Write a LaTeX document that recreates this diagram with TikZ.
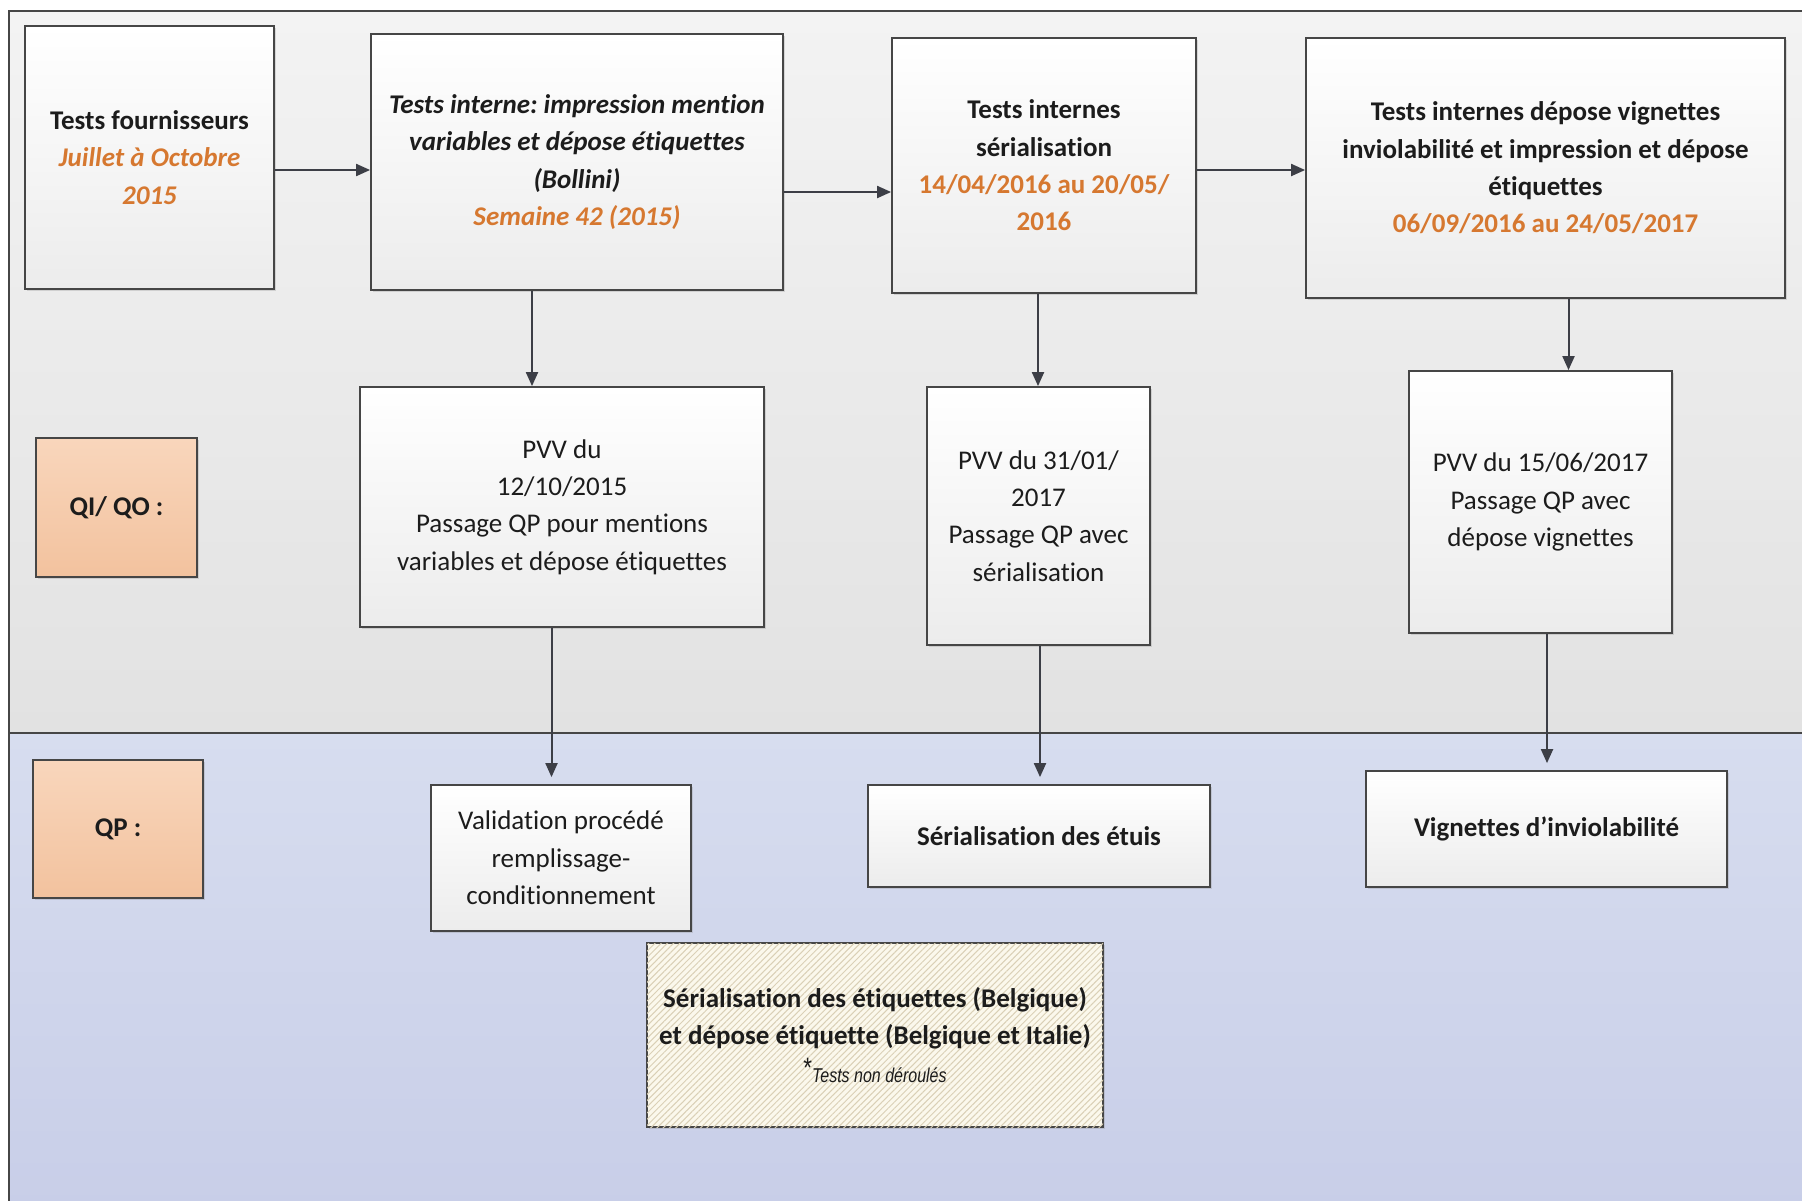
\documentclass[tikz,border=0pt]{standalone}
\usepackage{fontspec}
\usepackage{graphicx}
\setmainfont{Carlito}[Ligatures=NoCommon]
\newfontfamily\narrowfont{Liberation Sans}
\usetikzlibrary{arrows.meta,shadows,patterns.meta}
\definecolor{orgtxt}{RGB}{214,120,48}
\definecolor{txtc}{RGB}{28,28,28}
\definecolor{bordc}{RGB}{70,70,70}
\definecolor{arrc}{RGB}{60,62,70}
\definecolor{boxbot}{RGB}{236,236,236}
\definecolor{org1}{RGB}{249,214,188}
\definecolor{org2}{RGB}{242,194,158}
\definecolor{up1}{RGB}{243,243,243}
\definecolor{up2}{RGB}{226,226,226}
\definecolor{lo1}{RGB}{215,221,239}
\definecolor{lo2}{RGB}{200,206,232}
\definecolor{cream}{RGB}{251,248,236}
\definecolor{hatchc}{RGB}{218,208,182}
\newcommand\msz{\fontsize{13.5}{18.7}\selectfont\frenchspacing}
\newcommand\og[1]{\textcolor{orgtxt}{#1}}
\begin{document}
\begin{tikzpicture}[x=0.5pt,y=-0.5pt,
  box/.style={draw=bordc, line width=0.9pt, top color=white, bottom color=boxbot,
    drop shadow={shadow xshift=1.2pt, shadow yshift=-1.2pt, opacity=0.25},
    align=center, inner sep=2pt, font=\msz, text=txtc},
  obox/.style={box, top color=org1, bottom color=org2},
  hbox/.style={draw=bordc, line width=0.9pt, fill=cream,
    drop shadow={shadow xshift=1.2pt, shadow yshift=-1.2pt, opacity=0.25},
    postaction={pattern={Lines[angle=45,distance=2.2pt,line width=0.5pt]}, pattern color=hatchc},
    align=center, inner sep=2pt, font=\msz, text=txtc},
  arr/.style={draw=arrc, line width=1pt, -{Triangle[length=7pt,width=6pt]}}
]
\useasboundingbox (0,0) rectangle (1802,1200);
\clip (0,0) rectangle (1802,1200);
% background regions
\fill[top color=up1, bottom color=up2] (9,11) rectangle (1810,733);
\fill[top color=lo1, bottom color=lo2] (9,733) rectangle (1810,1210);
\draw[draw=bordc, line width=1pt] (9,1210) -- (9,11) -- (1810,11);
\draw[draw=bordc, line width=1pt] (9,733) -- (1810,733);

% top row
\node[box, minimum width=124.5pt, minimum height=131.5pt] (B1) at (149.5,157.5)
  {\bfseries Tests fournisseurs\\ \bfseries\itshape\og{Juillet à Octobre}\\ \bfseries\itshape\og{2015}};
\node[box, minimum width=206pt, minimum height=128pt] (B2) at (577,162)
  {\bfseries\itshape Tests interne: impression mention\\ \bfseries\itshape variables et dépose étiquettes\\ \bfseries\itshape (Bollini)\\ \bfseries\itshape\og{Semaine 42 (2015)}};
\node[box, minimum width=152pt, minimum height=127.5pt] (B3) at (1044,165.5)
  {\bfseries Tests internes\\ \bfseries sérialisation\\ \bfseries\og{14/04/2016 au 20/05/}\\ \bfseries\og{2016}};
\node[box, minimum width=239.5pt, minimum height=130pt] (B4) at (1545.5,168)
  {\bfseries Tests internes dépose vignettes\\ \bfseries inviolabilité et impression et dépose\\ \bfseries étiquettes\\ \bfseries\og{06/09/2016 au 24/05/2017}};

% QI/QO row
\node[obox, minimum width=80.5pt, minimum height=69.5pt] (QI) at (116.5,507.5) {\bfseries QI/ QO :};
\node[box, minimum width=202pt, minimum height=120pt] (P1) at (562,507)
  {PVV du\\ 12/10/2015\\ Passage QP pour mentions\\ variables et dépose étiquettes};
\node[box, minimum width=111.5pt, minimum height=129pt] (P2) at (1038.5,516)
  {PVV du 31/01/\\ 2017\\ Passage QP avec\\ sérialisation};
\node[box, minimum width=131.5pt, minimum height=131pt] (P3) at (1540.5,502)
  {PVV du 15/06/2017\\ Passage QP avec\\ dépose vignettes};

% QP row
\node[obox, minimum width=85pt, minimum height=69pt] (QP) at (118,829) {\bfseries QP :};
\node[box, minimum width=130pt, minimum height=73pt] (V1) at (561,858)
  {Validation procédé\\ remplissage-\\ conditionnement};
\node[box, minimum width=171pt, minimum height=51pt] (V2) at (1039,836)
  {\bfseries Sérialisation des étuis};
\node[box, minimum width=180.5pt, minimum height=58pt] (V3) at (1546.5,829)
  {\bfseries Vignettes d’inviolabilité};
\node[hbox, minimum width=228pt, minimum height=92pt] (H) at (875,1035)
  {\bfseries Sérialisation des étiquettes (Belgique)\\ \bfseries et dépose étiquette (Belgique et Italie)\\
   \scalebox{0.8}[1]{\narrowfont\itshape\fontsize{10}{12}\selectfont\raisebox{0.45ex}{\upshape\fontsize{14}{14}\selectfont *}Tests non déroulés}};

% connector guides
\coordinate (h1) at (0,170);
\coordinate (h2) at (0,192);
\coordinate (v1) at (532,0);
\coordinate (v2) at (1038,0);
\coordinate (v3) at (1568.5,0);
\coordinate (w1) at (551.5,0);
\coordinate (w2) at (1040,0);
\coordinate (w3) at (1547,0);

\draw[arr] (B1.east |- h1) -- (B2.west |- h1);
\draw[arr] (B2.east |- h2) -- (B3.west |- h2);
\draw[arr] (B3.east |- h1) -- (B4.west |- h1);
\draw[arr] (B2.south -| v1) -- (P1.north -| v1);
\draw[arr] (B3.south -| v2) -- (P2.north -| v2);
\draw[arr] (B4.south -| v3) -- (P3.north -| v3);
\draw[arr, shorten >=3.5pt] (P1.south -| w1) -- (V1.north -| w1);
\draw[arr, shorten >=3.5pt] (P2.south -| w2) -- (V2.north -| w2);
\draw[arr, shorten >=3.5pt] (P3.south -| w3) -- (V3.north -| w3);
\end{tikzpicture}
\end{document}
